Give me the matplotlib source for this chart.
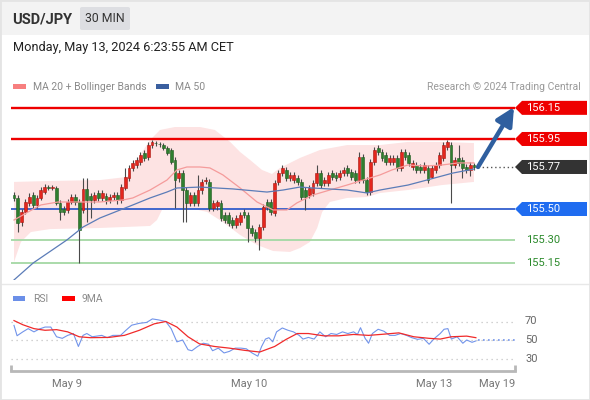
import numpy as np
import matplotlib
matplotlib.use("Agg")
import matplotlib.pyplot as plt
from matplotlib.patches import Rectangle, Polygon, FancyBboxPatch
from matplotlib.lines import Line2D

plt.rcParams['font.family'] = ['Roboto', 'DejaVu Sans']

# ---------------- data ----------------
pair = "USD/JPY"
timeframe = "30 MIN"
timestamp = "Monday, May 13, 2024 6:23:55 AM CET"

opens = [155.590, 155.571, 155.416, 155.481, 155.539, 155.590, 155.526, 155.571, 155.609, 155.641,
         155.635, 155.635, 155.539, 155.500, 155.494, 155.545, 155.577, 155.545, 155.494, 155.629,
         155.584, 155.558, 155.603, 155.571, 155.584, 155.558, 155.577, 155.590, 155.558, 155.635,
         155.699, 155.764, 155.783, 155.802, 155.860, 155.834, 155.911, 155.924, 155.918, 155.911,
         155.892, 155.879, 155.815, 155.699, 155.731, 155.622, 155.539, 155.590, 155.539, 155.622,
         155.680, 155.674, 155.506, 155.519, 155.539, 155.461, 155.461, 155.429, 155.397, 155.416,
         155.481, 155.461, 155.378, 155.352, 155.314, 155.384, 155.545, 155.545, 155.474, 155.674,
         155.731, 155.751, 155.699, 155.686, 155.699, 155.674, 155.622, 155.590, 155.603, 155.667,
         155.731, 155.667, 155.667, 155.731, 155.719, 155.706, 155.731, 155.764, 155.738, 155.731,
         155.686, 155.834, 155.686, 155.609, 155.802, 155.892, 155.866, 155.847, 155.802, 155.802,
         155.828, 155.764, 155.866, 155.847, 155.770, 155.783, 155.770, 155.751, 155.764, 155.706,
         155.751, 155.783, 155.828, 155.898, 155.911, 155.783, 155.828, 155.815, 155.770, 155.751,
         155.783]
closes = [155.571, 155.410, 155.481, 155.545, 155.577, 155.526, 155.571, 155.622, 155.641, 155.635,
          155.641, 155.539, 155.481, 155.481, 155.545, 155.577, 155.545, 155.365, 155.629, 155.558,
          155.558, 155.590, 155.571, 155.603, 155.558, 155.577, 155.590, 155.558, 155.641, 155.706,
          155.764, 155.796, 155.815, 155.847, 155.828, 155.911, 155.931, 155.921, 155.915, 155.892,
          155.860, 155.802, 155.686, 155.731, 155.622, 155.539, 155.590, 155.539, 155.622, 155.674,
          155.686, 155.506, 155.539, 155.545, 155.442, 155.429, 155.410, 155.397, 155.442, 155.461,
          155.461, 155.378, 155.346, 155.314, 155.384, 155.513, 155.513, 155.481, 155.667, 155.731,
          155.764, 155.699, 155.719, 155.719, 155.674, 155.577, 155.577, 155.635, 155.667, 155.731,
          155.654, 155.686, 155.719, 155.706, 155.699, 155.731, 155.751, 155.731, 155.706, 155.686,
          155.834, 155.686, 155.609, 155.802, 155.879, 155.866, 155.828, 155.802, 155.828, 155.828,
          155.764, 155.866, 155.834, 155.796, 155.796, 155.751, 155.751, 155.783, 155.686, 155.764,
          155.783, 155.847, 155.911, 155.931, 155.783, 155.815, 155.796, 155.764, 155.751, 155.783,
          155.770]
highs = [155.609, 155.590, 155.500, 155.564, 155.603, 155.609, 155.590, 155.641, 155.661, 155.654,
         155.654, 155.648, 155.558, 155.519, 155.564, 155.596, 155.596, 155.564, 155.699, 155.699,
         155.603, 155.609, 155.622, 155.622, 155.603, 155.596, 155.609, 155.609, 155.661, 155.764,
         155.783, 155.815, 155.834, 155.866, 155.879, 155.931, 155.943, 155.937, 155.931, 155.924,
         155.905, 155.892, 155.834, 155.751, 155.751, 155.641, 155.609, 155.609, 155.719, 155.693,
         155.706, 155.693, 155.558, 155.558, 155.558, 155.481, 155.481, 155.449, 155.461, 155.481,
         155.500, 155.481, 155.397, 155.371, 155.404, 155.532, 155.564, 155.564, 155.686, 155.751,
         155.783, 155.770, 155.738, 155.738, 155.719, 155.693, 155.641, 155.654, 155.686, 155.783,
         155.751, 155.706, 155.738, 155.751, 155.738, 155.751, 155.770, 155.783, 155.757, 155.751,
         155.866, 155.853, 155.706, 155.821, 155.898, 155.911, 155.886, 155.866, 155.847, 155.847,
         155.847, 155.886, 155.886, 155.866, 155.815, 155.802, 155.789, 155.802, 155.783, 155.783,
         155.802, 155.866, 155.931, 155.943, 155.931, 155.834, 155.911, 155.834, 155.789, 155.802,
         155.796]
lows = [155.551, 155.352, 155.391, 155.468, 155.519, 155.506, 155.506, 155.558, 155.596, 155.622,
        155.622, 155.526, 155.429, 155.461, 155.474, 155.532, 155.526, 155.153, 155.474, 155.416,
        155.442, 155.539, 155.551, 155.551, 155.532, 155.539, 155.558, 155.532, 155.539, 155.622,
        155.680, 155.744, 155.764, 155.783, 155.808, 155.815, 155.892, 155.905, 155.898, 155.879,
        155.847, 155.789, 155.506, 155.674, 155.416, 155.416, 155.519, 155.519, 155.519, 155.596,
        155.661, 155.487, 155.487, 155.494, 155.423, 155.410, 155.391, 155.378, 155.378, 155.397,
        155.442, 155.288, 155.326, 155.288, 155.236, 155.365, 155.494, 155.461, 155.455, 155.654,
        155.712, 155.680, 155.680, 155.667, 155.654, 155.558, 155.494, 155.571, 155.584, 155.648,
        155.635, 155.648, 155.648, 155.686, 155.680, 155.686, 155.712, 155.712, 155.686, 155.667,
        155.667, 155.667, 155.590, 155.590, 155.783, 155.847, 155.808, 155.783, 155.783, 155.783,
        155.744, 155.744, 155.815, 155.776, 155.751, 155.731, 155.731, 155.731, 155.667, 155.699,
        155.731, 155.764, 155.808, 155.879, 155.539, 155.764, 155.776, 155.699, 155.731, 155.712,
        155.751]

ma20_pos = [0, 3.7, 7.0, 11.5, 15.9, 22.4, 28.4, 31.0, 35.5, 39.9, 42.5, 45.1, 48.5, 51.1, 54.5, 59.0,
            63.4, 67.6, 71.2, 73.8, 78.0, 82.4, 86.9, 91.1, 95.5, 98.6, 102.8, 107.2, 111.7, 115.8, 120.0]
ma20 = [155.429, 155.481, 155.526, 155.545, 155.545, 155.545, 155.558, 155.571, 155.622, 155.686,
        155.751, 155.770, 155.770, 155.764, 155.719, 155.635, 155.545, 155.494, 155.494, 155.539,
        155.590, 155.622, 155.654, 155.686, 155.719, 155.751, 155.783, 155.776, 155.783, 155.796,
        155.796]

ma50_pos = [0, 5.0, 13.8, 18.0, 22.4, 31.0, 35.5, 39.9, 42.5, 48.5, 57.1, 66.0, 70.2, 74.6, 78.0,
            86.9, 92.1, 95.5, 102.8, 107.7, 114.5, 120.0]
ma50 = [155.044, 155.153, 155.301, 155.384, 155.442, 155.526, 155.571, 155.609, 155.635, 155.641,
        155.629, 155.609, 155.622, 155.641, 155.635, 155.622, 155.603, 155.622, 155.654, 155.686,
        155.731, 155.757]

bb_up_pos = [0, 9.4, 22.4, 29.5, 31.0, 32.9, 35.5, 38.1, 42.0, 48.5, 52.4, 56.4, 59.0, 61.6, 64.7,
             67.3, 69.4, 74.6, 79.8, 86.9, 95.5, 102.8, 111.7, 120.0]
bb_up = [155.674, 155.680, 155.686, 155.706, 155.764, 155.847, 155.943, 156.008, 156.027, 156.027,
         156.008, 155.931, 155.866, 155.815, 155.751, 155.725, 155.764, 155.828, 155.879, 155.911,
         155.911, 155.931, 155.931, 155.924]
bb_low_pos = [0, 1.8, 4.4, 9.4, 22.4, 35.5, 37.3, 38.6, 45.9, 50.4, 54.5, 59.0, 63.4, 67.6, 72.0,
              74.6, 77.2, 79.1, 80.4, 82.4, 86.9, 92.1, 95.5, 102.8, 111.7, 120.0]
bb_low = [155.159, 155.288, 155.352, 155.371, 155.378, 155.391, 155.429, 155.494, 155.506, 155.481,
          155.416, 155.333, 155.269, 155.230, 155.224, 155.249, 155.288, 155.378, 155.481, 155.545,
          155.571, 155.577, 155.603, 155.622, 155.654, 155.674]

resistances = [156.15, 155.95]
pivot = 155.50
supports = [155.30, 155.15]
last_price = 155.77
target_price = 156.15

rsi_pos = [0, 0.8, 2.3, 3.7, 5.2, 6.7, 8.1, 9.6, 11.1, 12.6, 14.0, 15.5, 16.8, 18.0, 19.0, 20.4,
           22.9, 24.3, 25.8, 27.8, 29.2, 30.7, 32.7, 34.6, 36.1, 37.6, 39.6, 41.0, 42.5, 44.0, 45.4,
           46.4, 47.9, 49.4, 50.8, 51.8, 53.3, 54.8, 56.2, 57.7, 59.2, 60.6, 62.1, 63.6, 64.6, 65.6,
           66.5, 67.5, 68.5, 70.0, 71.5, 72.9, 74.4, 75.4, 76.8, 78.3, 79.8, 81.3, 82.7, 84.2, 85.7,
           87.1, 88.6, 89.6, 90.4, 91.6, 92.5, 93.5, 95.0, 96.5, 98.0, 99.4, 100.9, 102.4, 103.8,
           105.3, 106.8, 108.3, 109.7, 111.2, 112.2, 113.2, 114.1, 115.6, 117.1, 118.1, 119.5, 120.5]
rsi = [65.8, 54.6, 58.8, 62.3, 58.8, 62.0, 64.0, 64.0, 53.5, 51.8, 55.0, 57.0, 43.0, 55.0, 57.0, 53.5,
       55.0, 52.5, 55.0, 55.0, 60.5, 66.0, 68.0, 69.0, 72.8, 71.8, 70.0, 62.3, 48.0, 50.0, 39.5,
       38.4, 43.0, 46.5, 45.4, 38.4, 41.2, 36.0, 37.7, 41.2, 41.2, 40.5, 36.0, 32.5, 43.0, 51.0,
       52.5, 48.0, 58.8, 63.0, 60.5, 58.8, 55.0, 51.0, 52.8, 51.0, 58.8, 53.5, 57.0, 56.0, 58.8,
       57.0, 58.8, 56.0, 63.3, 51.8, 46.5, 57.0, 61.6, 59.5, 55.0, 55.0, 57.0, 55.0, 52.5,
       50.7, 51.8, 45.4, 51.8, 57.0, 61.6, 62.3, 51.0, 53.5, 46.5, 50.0, 47.5, 49.0]
rsi_ma_pos = [0, 2.3, 5.2, 8.1, 11.1, 14.0, 17.0, 19.9, 24.8, 28.8, 32.7, 36.6, 39.6, 42.5, 45.4, 48.4,
              52.3, 56.2, 60.2, 64.1, 68.0, 71.0, 73.9, 76.8, 80.8, 84.7, 88.6, 92.5, 96.5, 100.4,
              104.3, 108.3, 111.2, 114.1, 118.1, 120.5]
rsi_ma = [71, 66.5, 62.3, 60.5, 61.2, 58.8, 53.5, 52.5, 52.8, 55, 60.5, 67.5, 70, 64, 53.5, 45.8,
          43, 41.2, 38.8, 37, 43, 50.7, 57, 57, 54.5, 54.5, 56, 55, 56.3, 57.7, 53.5, 51.8, 51, 53.5,
          54.2, 52.5]
rsi_levels = [70, 50, 30]

tick_pos = [13.8, 61.3, 109.6, 126.0]
tick_labels = ["May 9", "May 10", "May 13", "May 19"]

# ---------------- layout ----------------
W, H = 590, 400
fig = plt.figure(figsize=(W / 100, H / 100), dpi=100)
fig.patch.set_facecolor('white')

def fx(x):
    return x / W

def fy(y):
    return 1 - y / H

PX0, PXSTEP = 14.0, 3.833      # pixel position of bar 0 and bar spacing
def px2i(px):
    return (px - PX0) / PXSTEP

XL = (px2i(11), px2i(515))

# header band & frame
fig.add_artist(Rectangle((0, fy(35)), 1, 35 / H, transform=fig.transFigure,
                         facecolor='#f3f3f3', edgecolor='none', zorder=0))
fig.add_artist(Rectangle((0, 0), 1, 1, transform=fig.transFigure, fill=False,
                         edgecolor='#e4e4e4', lw=2, zorder=10))
fig.add_artist(Line2D([0, 1], [fy(284), fy(284)], transform=fig.transFigure,
                      color='#e8e8e8', lw=1))

fig.text(fx(12), fy(19), pair, fontsize=10.5, fontweight='bold', color='#333333', va='center')
fig.add_artist(FancyBboxPatch((fx(80), fy(30)), (50) / W, 23 / H, transform=fig.transFigure,
                              boxstyle='round,pad=0,rounding_size=0.004',
                              facecolor='#dddee2', edgecolor='none'))
fig.text(fx(105), fy(19), timeframe, fontsize=8.8, color='#333333', va='center', ha='center')
fig.text(fx(13), fy(48), timestamp, fontsize=9.2, color='#222222', va='center')

# legends
fig.add_artist(Rectangle((fx(13), fy(89)), 13 / W, 5 / H, transform=fig.transFigure,
                         facecolor='#f77f7f', edgecolor='none'))
fig.text(fx(33), fy(86.5), "MA 20 + Bollinger Bands", fontsize=7.5, color='#8a8a8a', va='center')
fig.add_artist(Rectangle((fx(156), fy(89)), 13 / W, 5 / H, transform=fig.transFigure,
                         facecolor='#3a5f9f', edgecolor='none'))
fig.text(fx(175), fy(86.5), "MA 50", fontsize=7.5, color='#8a8a8a', va='center')
fig.text(fx(581), fy(86.5), "Research \u00a9 2024 Trading Central", fontsize=7.5,
         color='#9a9a9a', va='center', ha='right')

fig.add_artist(Rectangle((fx(13), fy(301)), 12 / W, 5 / H, transform=fig.transFigure,
                         facecolor='#6b8fe8', edgecolor='none'))
fig.text(fx(33), fy(299), "RSI", fontsize=7.5, color='#8a8a8a', va='center')
fig.add_artist(Rectangle((fx(62), fy(301)), 13 / W, 5 / H, transform=fig.transFigure,
                         facecolor='#ff0000', edgecolor='none'))
fig.text(fx(82), fy(299), "9MA", fontsize=7.5, color='#8a8a8a', va='center')

# ---------------- main price panel ----------------
PPX = 155.6                      # pixels per 1.00 of price
def py2p(y):
    return 155.50 + (209 - y) / PPX

ax = fig.add_axes([fx(11), fy(280), 504 / W, 185 / H])
ax.set_xlim(*XL)
ax.set_ylim(py2p(280), py2p(95))
ax.axis('off')

# Bollinger band fill
ax.fill(np.concatenate([bb_up_pos, bb_low_pos[::-1]]),
        np.concatenate([bb_up, bb_low[::-1]]),
        color='#fde3e3', lw=0, zorder=1)

# levels
for lv in resistances:
    ax.axhline(lv, color='#ee0000', lw=1.7, zorder=2)
ax.axhline(pivot, color='#2152c9', lw=1.2, zorder=2)
for lv in supports:
    ax.axhline(lv, color='#a4d8a4', lw=1.3, zorder=2)

# candles
idx = np.arange(len(closes))
o = np.array(opens)
c = np.array(closes)
up = c >= o
body_col = np.where(up, '#e4261d', '#2f7f2f')
edge_col = np.where(up, '#a81510', '#1f5a1f')
ax.vlines(idx, lows, highs, colors='#4a4a4a', lw=0.8, zorder=3)
ax.bar(idx, np.maximum(np.abs(c - o), 0.004), bottom=np.minimum(o, c), width=0.72,
       color=body_col, edgecolor=edge_col, lw=0.4, zorder=4)

# moving averages
ax.plot(ma20_pos, ma20, color='#f59b9b', lw=0.9, zorder=5)
ax.plot(ma50_pos, ma50, color='#5b7cb8', lw=0.9, zorder=5)

# last price dotted
ax.plot([px2i(478), XL[1]], [last_price, last_price], ls=(0, (1, 2)), color='#555555', lw=1.0,
        zorder=5, clip_on=False)

# arrow
ax.annotate('', xy=(px2i(514), py2p(107)), xytext=(px2i(478), last_price),
            arrowprops=dict(arrowstyle='-|>,head_length=0.9,head_width=0.45',
                            color='#2f5f9f', lw=3.2, shrinkA=0, shrinkB=0,
                            mutation_scale=12),
            annotation_clip=False, zorder=6)

# price labels
HH = 7 / PPX
def label_box(price, face):
    xs = [px2i(515), px2i(522), px2i(587), px2i(587), px2i(522)]
    ys = [price, price + HH, price + HH, price - HH, price - HH]
    ax.add_patch(Polygon(list(zip(xs, ys)), closed=True, facecolor=face, edgecolor='none',
                         clip_on=False, zorder=7))
    ax.text(px2i(526), price, f"{price:.2f}", color='white', fontsize=8, va='center',
            ha='left', clip_on=False, zorder=8)

for lv in resistances:
    label_box(lv, '#ee0000')
label_box(last_price, '#333333')
label_box(pivot, '#1f6cf0')
for lv in supports:
    ax.text(px2i(526), lv, f"{lv:.2f}", color='#2b8a2b', fontsize=8, va='center', ha='left',
            clip_on=False)

# ---------------- RSI panel ----------------
def ry2v(y):
    return 50 + (340 - y) * 40 / 37

ax2 = fig.add_axes([fx(11), fy(371), 504 / W, 66 / H])
ax2.set_xlim(*XL)
ax2.set_ylim(ry2v(371), ry2v(305))
for s in ['top', 'left', 'right']:
    ax2.spines[s].set_visible(False)
ax2.spines['bottom'].set_color('#b8b8b8')
ax2.spines['bottom'].set_linewidth(2)
ax2.set_yticks([])
ax2.set_xticks(tick_pos, tick_labels)
ax2.tick_params(axis='x', length=0, pad=6, labelsize=8, labelcolor='#777777')
for xa in (0, 1):
    ax2.plot([xa, xa], [0, 6 / 66], transform=ax2.transAxes, color='#b8b8b8', lw=2,
             clip_on=False, solid_capstyle='butt')

for lv in rsi_levels:
    ax2.axhline(lv, color='#c4c4c4', ls=(0, (1, 3)), lw=0.9, zorder=1)
    ax2.text(px2i(525), lv, str(lv), color='#666666', fontsize=8, va='center', ha='left',
             clip_on=False)

ax2.plot(rsi_pos, rsi, color='#7294ea', lw=0.8, zorder=3)
ax2.plot(rsi_ma_pos, rsi_ma, color='#f02a2a', lw=0.9, zorder=4)
ax2.plot([rsi_pos[-1] + 0.5, XL[1]], [50, 50], ls=(0, (1, 2)), color='#7294ea', lw=1.2,
         zorder=3)

fig.savefig('out.png', dpi=100, facecolor='white')
